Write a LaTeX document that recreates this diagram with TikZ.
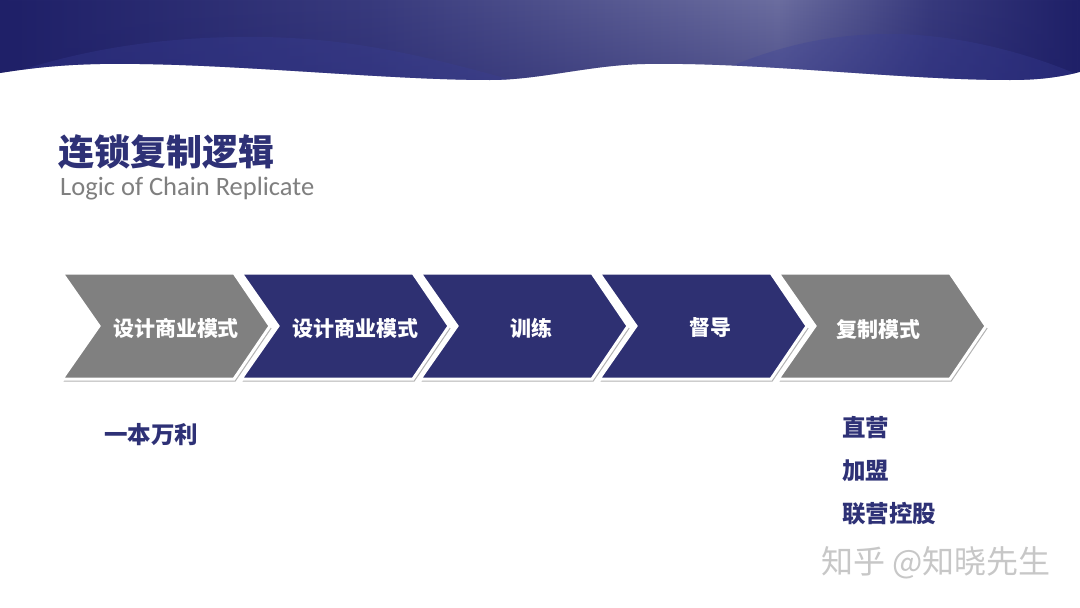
\documentclass[tikz,border=0pt]{standalone}
\usepackage{fontspec}
\setmainfont{Carlito}
\newfontfamily\cjk{Noto Sans CJK SC}
\usetikzlibrary{shadows,fadings}
\definecolor{navy}{HTML}{2E3072}
\definecolor{navyt}{HTML}{2E3176}
\definecolor{chgray}{HTML}{808080}
\definecolor{subgray}{HTML}{7F7F7F}
\definecolor{bnav}{HTML}{1F2068}
\definecolor{bnav2}{HTML}{383A7D}
\definecolor{bhi}{HTML}{6B6D9F}
\definecolor{hill}{HTML}{3A3F98}
\pgfdeclarehorizontalshading{banner}{100bp}{color(0bp)=(bnav); color(25bp)=(bnav); color(42bp)=(bnav2); color(61bp)=(bhi); color(68bp)=(bnav2); color(75bp)=(bnav); color(100bp)=(bnav)}
\tikzset{
  chev/.style={draw=white, line width=3pt, line join=miter,
    drop shadow={shadow xshift=1.5pt, shadow yshift=-2.5pt, opacity=0.3, fill=black}},
  chevtext/.style={inner sep=0pt, text=white, font=\cjk\bfseries\fontsize{21}{21}\selectfont},
  bluetext/.style={inner sep=0pt, anchor=west, text=navyt, font=\cjk\bfseries\fontsize{23.5}{23.5}\selectfont},
}
\begin{document}
\begin{tikzpicture}[x=1pt,y=-1pt]
\useasboundingbox (0,0) rectangle (1080,608);
\fill[white] (0,0) rectangle (1080,608);
% banner
\def\wave{(0,0) -- (1080,0) -- (1080,72) .. controls (1060,77) and (1040,80) .. (1010,80)
  .. controls (900,80) and (760,62) .. (645,64) .. controls (590,65) and (540,80) .. (490,80)
  .. controls (380,80) and (220,62) .. (100,64) .. controls (50,65) and (20,70) .. (0,73) -- cycle}
\shade[shading=banner] \wave;
\begin{scope}
  \clip \wave;
  \fill[bnav, fill opacity=0.35, path fading=north] (0,0) rectangle (1080,82);
  \fill[hill, fill opacity=0.3] (-20,85) .. controls (80,45) and (180,36) .. (260,37)
     .. controls (360,38) and (440,60) .. (530,85) -- cycle;
  \fill[hill, fill opacity=0.3] (690,85) .. controls (760,50) and (820,34) .. (890,34)
     .. controls (960,34) and (1040,55) .. (1100,85) -- cycle;
\end{scope}
% title
\node[inner sep=0pt, anchor=west, text=navyt, font=\cjk\bfseries\fontsize{36}{36}\selectfont] (title) at (58,152) {连锁复制逻辑};
\node[inner sep=0pt, anchor=west, text=subgray, font=\fontsize{26.5}{26.5}\selectfont] (sub) at (60,189) {Logic of Chain Replicate};
% chevrons
\foreach \x/\c in {62/chgray, 241/navy, 420/navy, 599/navy, 778/chgray}{
  \fill[chev, fill=\c] (\x,273) -- (\x+172,273) -- (\x+208,326) -- (\x+172,379) -- (\x,379) -- (\x+37,326) -- cycle;
}
\node[chevtext] (c1) at (176,328) {设计商业模式};
\node[chevtext] (c2) at (355,328) {设计商业模式};
\node[chevtext] (c3) at (531,328) {训练};
\node[chevtext] (c4) at (710,328) {督导};
\node[chevtext] (c5) at (878,329) {复制模式};
% labels
\node[bluetext] (l1) at (104,435) {一本万利};
\node[bluetext] (r1) at (842,428) {直营};
\node[bluetext] (r2) at (842,471) {加盟};
\node[bluetext] (r3) at (842,514) {联营控股};
% watermark
\node[inner sep=0pt, anchor=west, text=black!22, font=\cjk\fontsize{32}{32}\selectfont] (wm) at (821,563) {知乎 @知晓先生};
\end{tikzpicture}
\end{document}
